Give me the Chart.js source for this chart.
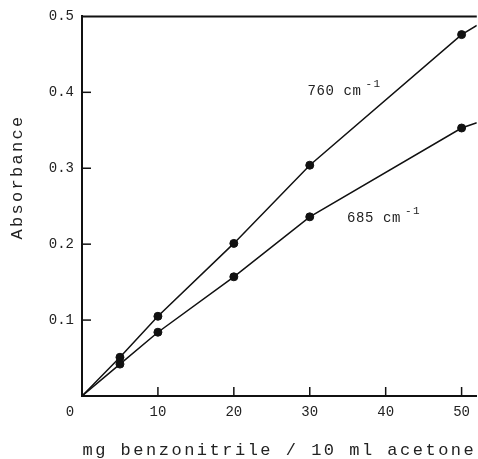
<!DOCTYPE html>
<html>
<head>
<meta charset="utf-8">
<script src="https://cdn.jsdelivr.net/npm/chart.js@4/dist/chart.umd.min.js"></script>
<style>
  html, body { margin: 0; padding: 0; background: #fff; }
  #wrap { width: 478px; height: 459px; }
</style>
</head>
<body>
<div id="wrap"><canvas id="c" width="478" height="459"></canvas></div>
<script>
// ---- data ----
const mgMeasured = [5, 10, 20, 30, 50];
const abs760 = [0.051, 0.105, 0.201, 0.304, 0.476];
const abs685 = [0.042, 0.084, 0.157, 0.236, 0.353];
const lineStartMg = 0;
const lineEndMg = 52;
const end760 = 0.488;
const end685 = 0.360;
const xTicks = [0, 10, 20, 30, 40, 50];
const yTicks = [0, 0.1, 0.2, 0.3, 0.4, 0.5];
const xTitle = 'mg benzonitrile / 10 ml acetone';
const yTitle = 'Absorbance';
const bandLabels = [
  { num: '760', unit: 'cm', sup: '-1', x: 29.7, y: 0.402 },
  { num: '685', unit: 'cm', sup: '-1', x: 34.9, y: 0.234 }
];

const FONT = '"Liberation Mono", "DejaVu Sans Mono", monospace';
const INK = '#111';
const TXT = '#222';

function series(vals, endVal) {
  const pts = [{ x: lineStartMg, y: 0 }];
  mgMeasured.forEach((m, i) => pts.push({ x: m, y: vals[i] }));
  pts.push({ x: lineEndMg, y: endVal });
  return pts;
}
const markerRadius = ctx => (ctx.dataIndex === 0 || ctx.dataIndex === ctx.dataset.data.length - 1) ? 0 : 4;

const decor = {
  id: 'decor',
  afterDraw(chart) {
    const ctx = chart.ctx;
    const a = chart.chartArea;
    const xs = chart.scales.x, ys = chart.scales.y;
    ctx.save();
    // top frame line
    ctx.strokeStyle = INK;
    ctx.lineWidth = 2;
    ctx.beginPath();
    ctx.moveTo(a.left, a.top);
    ctx.lineTo(a.right, a.top);
    ctx.stroke();
    // inward tick marks
    ctx.lineWidth = 1.5;
    yTicks.forEach(v => {
      if (v === 0 || v === 0.5) return;
      const p = ys.getPixelForValue(v);
      ctx.beginPath(); ctx.moveTo(a.left, p); ctx.lineTo(a.left + 9, p); ctx.stroke();
    });
    xTicks.forEach(v => {
      if (v === 0) return;
      const p = xs.getPixelForValue(v);
      ctx.beginPath(); ctx.moveTo(p, a.bottom); ctx.lineTo(p, a.bottom - 9); ctx.stroke();
    });
    // origin label
    ctx.fillStyle = TXT;
    ctx.font = '14px ' + FONT;
    ctx.textAlign = 'center';
    ctx.textBaseline = 'middle';
    ctx.fillText('0', xs.getPixelForValue(0) - 12, a.bottom + 16.5);
    // band labels
    bandLabels.forEach(l => {
      const px = xs.getPixelForValue(l.x);
      const py = ys.getPixelForValue(l.y);
      ctx.textAlign = 'left';
      ctx.textBaseline = 'middle';
      ctx.font = '14px ' + FONT;
      ctx.letterSpacing = '0.6px';
      const t = l.num + ' ' + l.unit;
      ctx.fillText(t, px, py);
      const w = ctx.measureText(t).width;
      ctx.font = '11px ' + FONT;
      ctx.letterSpacing = '1.5px';
      ctx.fillText(l.sup, px + w + 4, py - 7);
    });
    // axis titles
    ctx.font = '17px ' + FONT;
    ctx.letterSpacing = '2.5px';
    ctx.textAlign = 'center';
    ctx.textBaseline = 'alphabetic';
    ctx.fillText(xTitle, (a.left + a.right) / 2, chart.height - 4);
    ctx.translate(22, 177);
    ctx.rotate(-Math.PI / 2);
    ctx.letterSpacing = '2.3px';
    ctx.fillText(yTitle, 0, 0);
    ctx.restore();
  }
};

new Chart(document.getElementById('c'), {
  type: 'line',
  data: {
    datasets: [
      { label: '760 cm-1', data: series(abs760, end760) },
      { label: '685 cm-1', data: series(abs685, end685) }
    ]
  },
  options: {
    responsive: false,
    devicePixelRatio: 1,
    animation: false,
    layout: { padding: { top: 15, right: 0, left: 0, bottom: 0 } },
    elements: {
      line: { borderColor: INK, borderWidth: 1.5, tension: 0, fill: false },
      point: { radius: markerRadius, backgroundColor: INK, borderColor: INK, borderWidth: 1, hoverRadius: markerRadius }
    },
    plugins: { legend: { display: false }, tooltip: { enabled: false } },
    scales: {
      x: {
        type: 'linear',
        min: 0,
        max: lineEndMg,
        afterBuildTicks: s => { s.ticks = xTicks.map(v => ({ value: v })); },
        afterFit: s => { s.height = 63; },
        grid: { display: false, drawTicks: false },
        border: { display: true, color: INK, width: 2 },
        ticks: {
          padding: 8,
          color: TXT,
          font: { family: FONT, size: 14 },
          maxRotation: 0,
          callback: v => (v === 0 ? '' : String(v))
        }
      },
      y: {
        type: 'linear',
        min: 0,
        max: 0.5,
        afterBuildTicks: s => { s.ticks = yTicks.map(v => ({ value: v })); },
        afterFit: s => { s.width = 82; },
        grid: { display: false, drawTicks: false },
        border: { display: true, color: INK, width: 2 },
        ticks: {
          padding: 8,
          color: TXT,
          font: { family: FONT, size: 14 },
          callback: v => (v === 0 ? '' : v.toFixed(1))
        }
      }
    }
  },
  plugins: [decor]
});
</script>
</body>
</html>
